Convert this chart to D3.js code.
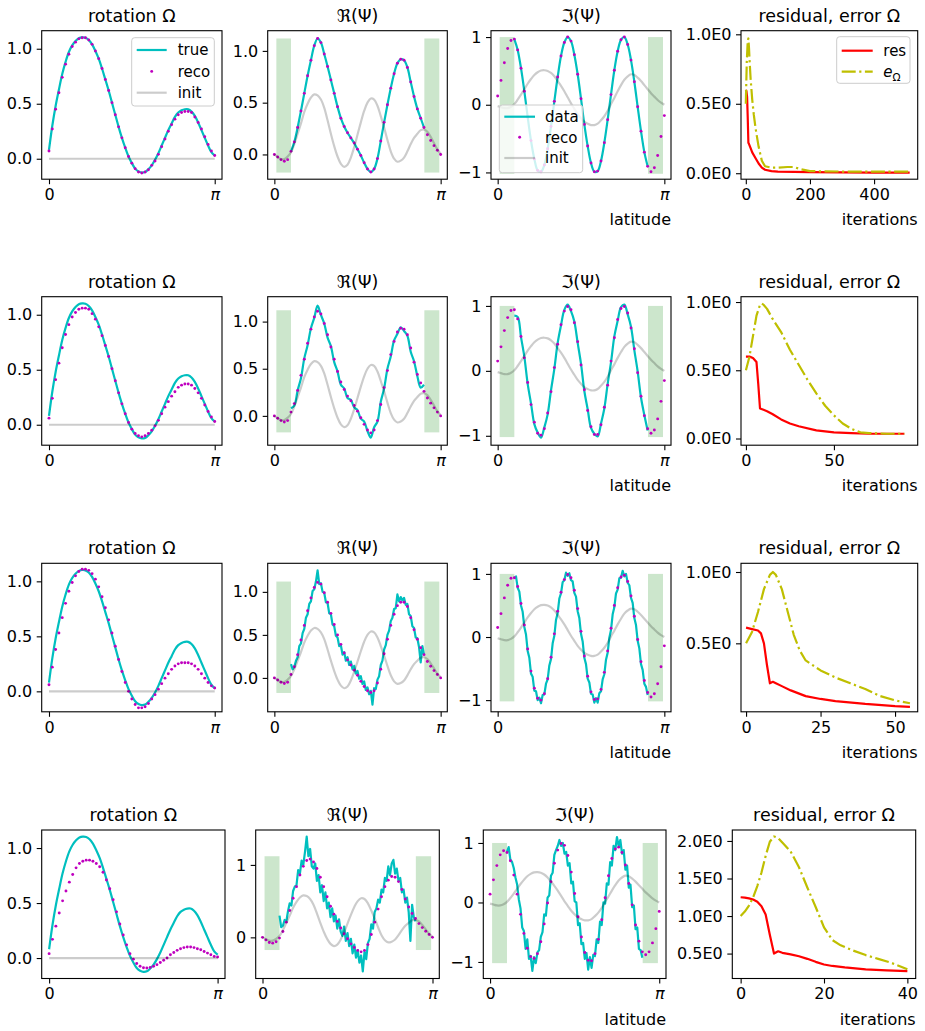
<!DOCTYPE html>
<html>
<head>
<meta charset="utf-8">
<script src="https://cdnjs.cloudflare.com/ajax/libs/d3/7.8.5/d3.min.js"></script>
<style>
  body { margin: 0; background: #fff; }
  text { font-family: "DejaVu Sans", sans-serif; }
</style>
</head>
<body>
<script>
// latitude grids, in units of pi
const latOm = [0,0.02,0.04,0.06,0.08,0.10,0.12,0.14,0.16,0.18,0.20,0.22,0.24,0.26,0.28,0.30,0.32,0.34,0.36,0.38,0.40,0.42,0.44,0.46,0.48,0.50,0.52,0.54,0.56,0.58,0.60,0.62,0.64,0.66,0.68,0.70,0.72,0.74,0.76,0.78,0.80,0.82,0.84,0.86,0.88,0.90,0.92,0.94,0.96,0.98,1.0];
const latMid = [0.10,0.12,0.14,0.16,0.18,0.20,0.22,0.24,0.26,0.28,0.30,0.32,0.34,0.36,0.38,0.40,0.42,0.44,0.46,0.48,0.50,0.52,0.54,0.56,0.58,0.60,0.62,0.64,0.66,0.68,0.70,0.72,0.74,0.76,0.78,0.80,0.82,0.84,0.86,0.88,0.90];
const latFine = [0.10,0.11,0.12,0.13,0.14,0.15,0.16,0.17,0.18,0.19,0.20,0.21,0.22,0.23,0.24,0.25,0.26,0.27,0.28,0.29,0.30,0.31,0.32,0.33,0.34,0.35,0.36,0.37,0.38,0.39,0.40,0.41,0.42,0.43,0.44,0.45,0.46,0.47,0.48,0.49,0.50,0.51,0.52,0.53,0.54,0.55,0.56,0.57,0.58,0.59,0.60,0.61,0.62,0.63,0.64,0.65,0.66,0.67,0.68,0.69,0.70,0.71,0.72,0.73,0.74,0.75,0.76,0.77,0.78,0.79,0.80,0.81,0.82,0.83,0.84,0.85,0.86,0.87,0.88,0.89,0.90];
const latEnds = [0.0, 1.0];

// rotation
const omegaTrue = [0.08,0.30,0.48,0.63,0.77,0.88,0.97,1.03,1.07,1.095,1.103,1.10,1.08,1.04,0.98,0.91,0.82,0.72,0.62,0.51,0.40,0.29,0.19,0.10,0.02,-0.04,-0.09,-0.115,-0.125,-0.12,-0.095,-0.06,-0.01,0.05,0.12,0.19,0.26,0.32,0.38,0.42,0.44,0.45,0.45,0.43,0.39,0.33,0.26,0.19,0.12,0.06,0.03];
const omegaInit = [0, 0];
const omegaReco1 = [0.07,0.27,0.45,0.60,0.74,0.86,0.95,1.02,1.06,1.09,1.10,1.10,1.08,1.04,0.98,0.91,0.82,0.72,0.62,0.51,0.40,0.29,0.19,0.10,0.02,-0.04,-0.09,-0.12,-0.13,-0.12,-0.10,-0.06,-0.02,0.04,0.11,0.18,0.25,0.31,0.36,0.40,0.42,0.43,0.43,0.42,0.38,0.33,0.27,0.20,0.13,0.07,0.03];
const omegaReco2 = [0.06,0.24,0.41,0.56,0.70,0.82,0.91,0.98,1.02,1.05,1.06,1.06,1.05,1.01,0.96,0.89,0.81,0.72,0.62,0.51,0.40,0.29,0.19,0.10,0.02,-0.04,-0.08,-0.10,-0.11,-0.10,-0.08,-0.05,-0.01,0.04,0.10,0.16,0.21,0.26,0.30,0.34,0.36,0.37,0.37,0.36,0.33,0.29,0.24,0.18,0.12,0.07,0.03];
const omegaReco3 = [0.06,0.22,0.38,0.53,0.67,0.80,0.91,0.99,1.05,1.09,1.11,1.11,1.10,1.07,1.02,0.95,0.86,0.76,0.65,0.53,0.41,0.29,0.18,0.08,0.00,-0.07,-0.12,-0.15,-0.15,-0.14,-0.11,-0.07,-0.03,0.02,0.07,0.12,0.16,0.20,0.23,0.25,0.26,0.26,0.26,0.25,0.23,0.20,0.16,0.12,0.08,0.05,0.03];
const omegaReco4 = [0.04,0.17,0.29,0.41,0.52,0.61,0.69,0.76,0.82,0.86,0.88,0.89,0.89,0.88,0.86,0.83,0.78,0.71,0.63,0.53,0.42,0.31,0.21,0.12,0.04,-0.01,-0.05,-0.075,-0.088,-0.09,-0.085,-0.075,-0.06,-0.04,-0.02,0.00,0.03,0.05,0.07,0.085,0.095,0.10,0.10,0.095,0.085,0.075,0.06,0.045,0.03,0.015,0.01];

// real part of psi
const reInit = [0.00,-0.025,-0.045,-0.045,-0.02,0.02,0.10,0.20,0.30,0.41,0.49,0.55,0.58,0.57,0.53,0.45,0.33,0.20,0.08,-0.02,-0.09,-0.12,-0.10,-0.03,0.07,0.19,0.31,0.42,0.50,0.54,0.53,0.47,0.37,0.26,0.14,0.03,-0.04,-0.07,-0.06,-0.03,0.03,0.10,0.16,0.20,0.235,0.24,0.22,0.17,0.11,0.05,0.01];
const reReco1 = [0.00,-0.025,-0.05,-0.065,-0.05,0.03,0.12,0.26,0.42,0.59,0.76,0.91,1.05,1.12,1.08,0.97,0.85,0.72,0.59,0.46,0.35,0.27,0.21,0.16,0.11,0.05,-0.01,-0.08,-0.14,-0.17,-0.14,-0.04,0.13,0.31,0.48,0.64,0.78,0.88,0.92,0.91,0.84,0.70,0.56,0.44,0.35,0.26,0.19,0.135,0.085,0.04,0.00];
const reReco2 = [0.00,-0.025,-0.05,-0.065,-0.05,0.04,0.13,0.27,0.43,0.60,0.77,0.92,1.05,1.11,1.08,0.98,0.86,0.73,0.60,0.47,0.36,0.28,0.21,0.16,0.11,0.05,-0.02,-0.09,-0.15,-0.18,-0.15,-0.05,0.12,0.30,0.48,0.65,0.79,0.89,0.93,0.92,0.86,0.72,0.57,0.44,0.35,0.26,0.19,0.135,0.085,0.04,0.00];
const reReco3 = [0.00,-0.025,-0.05,-0.065,-0.05,0.04,0.13,0.27,0.44,0.61,0.78,0.93,1.05,1.11,1.09,0.99,0.88,0.75,0.62,0.50,0.39,0.29,0.21,0.15,0.09,0.03,-0.04,-0.10,-0.15,-0.17,-0.15,-0.06,0.10,0.28,0.45,0.61,0.74,0.84,0.88,0.88,0.83,0.70,0.56,0.45,0.35,0.27,0.19,0.135,0.085,0.04,0.00];
const reReco4 = [0.00,-0.035,-0.07,-0.08,-0.06,-0.01,0.08,0.21,0.37,0.54,0.70,0.86,0.98,1.06,1.08,1.04,0.95,0.83,0.70,0.56,0.43,0.32,0.22,0.13,0.05,-0.02,-0.09,-0.14,-0.18,-0.20,-0.18,-0.10,0.04,0.21,0.39,0.56,0.70,0.79,0.84,0.83,0.77,0.66,0.53,0.42,0.33,0.26,0.19,0.135,0.085,0.04,0.00];
const reData1 = [0.03,0.12,0.26,0.42,0.59,0.76,0.91,1.05,1.12,1.08,0.97,0.85,0.72,0.59,0.46,0.35,0.27,0.21,0.16,0.11,0.05,-0.01,-0.08,-0.14,-0.17,-0.14,-0.04,0.13,0.31,0.48,0.64,0.78,0.88,0.92,0.91,0.84,0.70,0.56,0.44,0.35,0.26];
const reData2 = [0.08,0.11,0.27,0.40,0.61,0.75,0.93,1.04,1.17,1.07,0.98,0.83,0.74,0.57,0.47,0.33,0.29,0.19,0.17,0.09,0.06,-0.03,-0.06,-0.16,-0.23,-0.12,-0.06,0.15,0.29,0.50,0.63,0.80,0.87,0.94,0.90,0.85,0.68,0.58,0.42,0.30,0.33];
const reData3 = [0.16,0.10,0.13,0.20,0.24,0.37,0.40,0.52,0.57,0.70,0.74,0.86,0.89,1.01,1.03,1.12,1.25,1.09,1.10,1.00,0.99,0.88,0.87,0.75,0.74,0.62,0.60,0.49,0.47,0.37,0.38,0.27,0.30,0.20,0.24,0.15,0.19,0.10,0.14,0.05,0.08,-0.01,0.02,-0.07,-0.04,-0.14,-0.11,-0.19,-0.15,-0.31,-0.12,-0.13,-0.02,0.02,0.15,0.20,0.33,0.38,0.50,0.55,0.66,0.70,0.80,0.81,0.97,0.89,0.94,0.90,0.93,0.85,0.86,0.74,0.72,0.60,0.58,0.47,0.46,0.36,0.18,0.37,0.27];
const reData4 = [0.30,0.14,0.16,0.24,0.22,0.36,0.47,0.44,0.64,0.70,0.72,0.93,0.88,1.06,1.00,1.18,1.39,1.12,1.22,0.98,0.95,1.02,0.78,0.86,0.62,0.72,0.50,0.62,0.40,0.48,0.28,0.40,0.22,0.30,0.12,0.25,0.08,0.02,0.15,-0.05,0.06,-0.12,-0.02,-0.22,-0.10,-0.28,-0.18,-0.35,-0.25,-0.47,-0.20,-0.30,-0.08,-0.02,0.18,0.12,0.35,0.40,0.52,0.48,0.66,0.62,0.82,0.78,0.98,0.86,1.02,1.07,0.88,0.95,0.78,0.82,0.62,0.66,0.48,0.55,0.35,-0.05,0.45,0.28,0.22];

// imaginary part of psi
const imInit = [-0.02,-0.035,-0.05,-0.05,-0.03,0.01,0.075,0.15,0.23,0.31,0.38,0.44,0.48,0.505,0.51,0.50,0.47,0.42,0.35,0.28,0.20,0.11,0.02,-0.06,-0.14,-0.20,-0.25,-0.28,-0.30,-0.30,-0.28,-0.23,-0.17,-0.09,0.01,0.10,0.20,0.29,0.37,0.42,0.45,0.44,0.40,0.35,0.29,0.23,0.17,0.12,0.07,0.03,0.00];
const imReco1 = [0.13,0.36,0.62,0.83,0.95,0.97,0.81,0.54,0.20,-0.18,-0.53,-0.80,-0.97,-0.99,-0.89,-0.65,-0.32,0.05,0.41,0.72,0.92,1.00,0.94,0.74,0.45,0.09,-0.29,-0.61,-0.86,-0.99,-0.98,-0.83,-0.56,-0.22,0.15,0.51,0.79,0.96,1.00,0.89,0.66,0.34,-0.03,-0.39,-0.70,-0.91,-0.99,-0.93,-0.75,-0.47,-0.16];
const imReco2 = [0.15,0.37,0.62,0.82,0.93,0.94,0.80,0.53,0.20,-0.18,-0.52,-0.79,-0.96,-0.99,-0.89,-0.65,-0.32,0.05,0.41,0.71,0.92,0.99,0.94,0.74,0.45,0.09,-0.29,-0.61,-0.86,-0.98,-0.98,-0.83,-0.56,-0.22,0.15,0.51,0.79,0.96,0.99,0.89,0.66,0.34,-0.03,-0.39,-0.69,-0.89,-0.96,-0.91,-0.74,-0.47,-0.15];
const imReco3 = [0.15,0.37,0.62,0.82,0.93,0.94,0.80,0.53,0.19,-0.19,-0.54,-0.81,-0.97,-1.00,-0.90,-0.66,-0.32,0.05,0.41,0.71,0.91,0.99,0.94,0.74,0.45,0.09,-0.30,-0.62,-0.87,-0.99,-0.98,-0.83,-0.56,-0.22,0.14,0.50,0.78,0.95,0.98,0.88,0.65,0.33,-0.04,-0.39,-0.69,-0.88,-0.95,-0.90,-0.74,-0.47,-0.14];
const imReco4 = [0.14,0.38,0.62,0.80,0.87,0.84,0.70,0.46,0.14,-0.20,-0.52,-0.77,-0.91,-0.94,-0.86,-0.66,-0.36,-0.01,0.35,0.66,0.88,0.99,0.96,0.79,0.51,0.15,-0.24,-0.58,-0.84,-0.97,-0.98,-0.86,-0.62,-0.29,0.08,0.45,0.74,0.90,0.93,0.84,0.63,0.32,-0.04,-0.38,-0.65,-0.83,-0.88,-0.83,-0.68,-0.44,-0.15];
const imData1 = [0.97,0.81,0.54,0.20,-0.18,-0.53,-0.80,-0.97,-0.99,-0.89,-0.65,-0.32,0.05,0.41,0.72,0.92,1.00,0.94,0.74,0.45,0.09,-0.29,-0.61,-0.86,-0.99,-0.98,-0.83,-0.56,-0.22,0.15,0.51,0.79,0.96,1.00,0.89,0.66,0.34,-0.03,-0.39,-0.70,-0.91];
const imData2 = [0.85,0.83,0.52,0.22,-0.20,-0.50,-0.82,-0.95,-1.03,-0.87,-0.67,-0.30,0.03,0.43,0.70,0.94,1.02,0.92,0.76,0.43,0.11,-0.31,-0.59,-0.88,-0.97,-1.01,-0.81,-0.58,-0.20,0.13,0.53,0.77,0.98,1.02,0.87,0.68,0.32,-0.01,-0.41,-0.68,-0.92];
const imData3 = [0.93,0.96,0.78,0.72,0.50,0.40,0.16,0.04,-0.22,-0.33,-0.58,-0.63,-0.85,-0.86,-1.00,-0.96,-1.05,-0.92,-0.91,-0.74,-0.67,-0.45,-0.35,-0.10,0.02,0.27,0.38,0.61,0.69,0.87,0.90,1.02,0.97,1.01,0.90,0.88,0.70,0.64,0.41,0.30,0.05,-0.07,-0.33,-0.43,-0.66,-0.72,-0.90,-0.91,-1.04,-0.97,-1.04,-0.89,-0.86,-0.67,-0.59,-0.36,-0.25,-0.01,0.11,0.36,0.47,0.69,0.75,0.93,0.94,1.05,0.96,1.00,0.86,0.82,0.62,0.54,0.30,0.19,-0.06,-0.18,-0.43,-0.52,-0.74,-0.79,-0.92];
const imData4 = [0.85,0.93,0.72,0.68,0.58,0.42,0.30,0.05,-0.10,-0.42,-0.48,-0.78,-0.62,-0.95,-0.90,-1.15,-0.92,-1.02,-0.84,-0.80,-0.58,-0.50,-0.20,-0.22,0.08,0.12,0.45,0.50,0.80,0.88,0.95,1.05,0.95,1.00,0.82,0.85,0.62,0.66,0.32,0.35,0.02,0.00,-0.38,-0.35,-0.70,-0.68,-0.95,-0.85,-1.13,-0.92,-1.10,-0.88,-0.90,-0.62,-0.68,-0.32,-0.38,0.00,-0.02,0.32,0.30,0.68,0.62,0.95,0.88,1.10,0.95,1.05,0.82,0.88,0.55,0.62,0.25,0.30,-0.08,-0.05,-0.45,-0.42,-0.78,-0.80,-0.93];

// masked polar bands (latitude / pi) and their vertical extent
const maskLeft = [0.012, 0.10];
const maskRight = [0.902, 0.992];
const reMaskY = [-0.175, 1.12];
const imMaskY = [-1.02, 1.0];

// convergence histories
const itRes1 = [0,2,4,6,8,10,15,20,30,40,50,60,80,100,150,200,300,400,511];
const res1 = [0.60,0.59,0.55,0.40,0.22,0.21,0.18,0.15,0.11,0.07,0.04,0.025,0.015,0.012,0.01,0.008,0.006,0.005,0.005];
const itErr1 = [0,3,6,8,10,12,15,20,25,30,40,50,60,80,100,130,150,170,200,300,400,511];
const err1 = [0.50,0.80,0.95,0.97,0.90,0.80,0.68,0.53,0.42,0.33,0.19,0.09,0.05,0.04,0.04,0.045,0.045,0.03,0.015,0.012,0.012,0.012];
const itRes2 = [0,2,4,6,7,8,10,12,15,20,25,30,40,50,60,70,80,90];
const res2 = [0.60,0.60,0.59,0.56,0.40,0.22,0.21,0.20,0.18,0.14,0.11,0.09,0.06,0.045,0.04,0.035,0.035,0.035];
const itErr2 = [0,2,4,6,8,9,10,12,15,20,25,30,35,40,45,50,55,60,65,70,80,90];
const err2 = [0.50,0.60,0.75,0.90,0.98,0.99,0.98,0.95,0.88,0.78,0.65,0.54,0.43,0.33,0.24,0.17,0.11,0.07,0.045,0.04,0.035,0.035];
const itRes3 = [0,2,4,5,6,7,8,9,10,12,15,20,25,30,40,50,55];
const res3 = [0.61,0.60,0.59,0.57,0.50,0.35,0.22,0.23,0.22,0.20,0.17,0.13,0.11,0.095,0.075,0.06,0.055];
const itErr3 = [0,2,4,6,8,9,10,12,14,16,18,20,25,30,35,40,45,50,55];
const err3 = [0.50,0.58,0.72,0.88,0.98,1.00,0.98,0.88,0.72,0.56,0.45,0.38,0.31,0.26,0.22,0.18,0.13,0.10,0.08];
const itRes4 = [0,1,2,3,4,5,6,7,8,9,10,12,14,16,18,20,22,25,30,35,40];
const res4 = [1.25,1.245,1.235,1.22,1.19,1.13,1.02,0.75,0.50,0.53,0.51,0.49,0.465,0.43,0.39,0.355,0.335,0.315,0.29,0.275,0.265];
const itErr4 = [0,1,2,3,4,5,6,7,8,9,10,12,14,16,18,20,22,24,27,30,33,36,40];
const err4 = [1.00,1.06,1.14,1.25,1.40,1.58,1.80,1.99,2.06,2.04,1.98,1.86,1.65,1.38,1.12,0.85,0.68,0.61,0.54,0.48,0.43,0.38,0.29];

// ticks
const latTicks = [0, 1];
const latTickLabels = ["0", "π"];
const omTicks = [0, 0.5, 1];
const reTicks = [[0, 0.5, 1], [0, 0.5, 1], [0, 0.5, 1], [0, 1]];
const imTicks = [-1, 0, 1];
const itTicks = [[0, 200, 400], [0, 50], [0, 25, 50], [0, 20, 40]];
const errTicks = [[0, 0.5, 1], [0, 0.5, 1], [0.5, 1], [0.5, 1, 1.5, 2]];

// layout
const W = 925, H = 1031;
const rowTop = [30.7, 296.7, 563.3, 830];
const axH = 148.5;
const colSpanTop = [[41.7, 222], [267.7, 447.3], [491, 671], [741, 917.7]];
const colSpan = [colSpanTop, colSpanTop, colSpanTop,
  [[41.7, 225], [255.7, 439.3], [483.3, 666], [732.3, 915.7]]];
const omXDom = [-0.044, 1.044];
const psiXDom = [-0.04, 1.04];
const omYDom = [-0.186, 1.164];
const reYDom = [[-0.239, 1.195], [-0.311, 1.264], [-0.394, 1.332], [-0.568, 1.482]];
const imYDom = [[-1.10, 1.094], [-1.145, 1.142], [-1.185, 1.168], [-1.278, 1.218]];
const itXDom = [[-15, 536], [-2.8, 97.6], [-1.7, 57.6], [-2, 42]];
const errYDom = [[-0.043, 1.026], [-0.049, 1.039], [0.02, 1.061], [0.168, 2.146]];

const C_TRUE = "#00bfbf", C_RECO = "#bf00bf", C_RES = "#ff0000", C_ERR = "#bfbf00";

const svg = d3.select("body").append("svg")
  .attr("width", W).attr("height", H);
svg.append("rect").attr("width", W).attr("height", H).attr("fill", "#fff");

let clipN = 0;
function makePanel(r, c, xDom, yDom) {
  const [x0, x1] = colSpan[r][c];
  const y0 = rowTop[r], y1 = y0 + axH;
  const x = d3.scaleLinear().domain(xDom).range([x0, x1]);
  const y = d3.scaleLinear().domain(yDom).range([y1, y0]);
  const g = svg.append("g");
  const id = "clip" + (clipN++);
  g.append("clipPath").attr("id", id).append("rect")
    .attr("x", x0).attr("y", y0).attr("width", x1 - x0).attr("height", axH);
  const plot = g.append("g").attr("clip-path", "url(#" + id + ")");
  return { g, plot, x, y, x0, x1, y0, y1 };
}

function finishPanel(p, xt, xf, yt, yf, title, xlabel) {
  const xa = p.g.append("g").attr("transform", "translate(0," + p.y1 + ")")
    .call(d3.axisBottom(p.x).tickValues(xt).tickFormat(xf).tickSize(5).tickPadding(4.5));
  const ya = p.g.append("g").attr("transform", "translate(" + p.x0 + ",0)")
    .call(d3.axisLeft(p.y).tickValues(yt).tickFormat(yf).tickSize(5).tickPadding(4.5));
  [xa, ya].forEach(a => {
    a.attr("font-size", 16).attr("font-family", "DejaVu Sans");
    a.select(".domain").remove();
    a.selectAll("line").attr("stroke", "#000").attr("stroke-width", 1.1);
    a.selectAll("text").attr("fill", "#000");
  });
  xa.selectAll("text").filter(d => xf(d) === "π").style("font-style", "italic");
  p.g.append("rect")
    .attr("x", p.x0).attr("y", p.y0)
    .attr("width", p.x1 - p.x0).attr("height", p.y1 - p.y0)
    .attr("fill", "none").attr("stroke", "#000").attr("stroke-width", 1.1);
  p.g.append("text")
    .attr("x", (p.x0 + p.x1) / 2).attr("y", p.y0 - 9)
    .attr("text-anchor", "middle").attr("font-size", 17.5)
    .text(title);
  if (xlabel) {
    p.g.append("text")
      .attr("x", p.x1).attr("y", p.y1 + 46)
      .attr("text-anchor", "end").attr("font-size", 16)
      .text(xlabel);
  }
}

function drawLine(p, xs, ys, color, opts) {
  const o = Object.assign({ width: 2.2, opacity: 1, smooth: false, dash: null }, opts);
  const line = d3.line()
    .x(d => p.x(d[0])).y(d => p.y(d[1]))
    .curve(o.smooth ? d3.curveCatmullRom.alpha(0.5) : d3.curveLinear);
  p.plot.append("path")
    .datum(d3.zip(xs, ys))
    .attr("d", line)
    .attr("fill", "none")
    .attr("stroke", color)
    .attr("stroke-opacity", o.opacity)
    .attr("stroke-width", o.width)
    .attr("stroke-linejoin", "round")
    .attr("stroke-dasharray", o.dash);
}

function drawDots(p, xs, ys) {
  p.plot.append("g").selectAll("circle")
    .data(d3.zip(xs, ys))
    .join("circle")
    .attr("cx", d => p.x(d[0])).attr("cy", d => p.y(d[1]))
    .attr("r", 1.45).attr("fill", C_RECO);
}

function drawMask(p, yr) {
  [maskLeft, maskRight].forEach(m => {
    p.plot.append("rect")
      .attr("x", p.x(m[0])).attr("width", p.x(m[1]) - p.x(m[0]))
      .attr("y", p.y(yr[1])).attr("height", p.y(yr[0]) - p.y(yr[1]))
      .attr("fill", "#008000").attr("fill-opacity", 0.2);
  });
}

function legend(x, y, w, h, items, lx0, lx1, tx, ys) {
  const g = svg.append("g");
  g.append("rect").attr("x", x).attr("y", y).attr("width", w).attr("height", h)
    .attr("rx", 3).attr("fill", "#fff").attr("fill-opacity", 0.8)
    .attr("stroke", "#cccccc").attr("stroke-width", 1);
  items.forEach((it, i) => {
    const yy = ys[i];
    if (it.kind === "dot") {
      g.append("circle").attr("cx", (lx0 + lx1) / 2).attr("cy", yy).attr("r", 1.45).attr("fill", it.color);
    } else {
      g.append("line").attr("x1", lx0).attr("x2", lx1).attr("y1", yy).attr("y2", yy)
        .attr("stroke", it.color).attr("stroke-width", 2.2)
        .attr("stroke-opacity", it.opacity || 1)
        .attr("stroke-dasharray", it.dash || null);
    }
    const t = g.append("text").attr("x", tx).attr("y", yy).attr("dy", "0.35em").attr("font-size", 15);
    if (it.label === "e_Ω") {
      t.append("tspan").style("font-style", "italic").text("e");
      t.append("tspan").attr("font-size", 10.5).attr("dy", 4).text("Ω");
    } else {
      t.text(it.label);
    }
  });
}

const omegaReco = [omegaReco1, omegaReco2, omegaReco3, omegaReco4];
const reReco = [reReco1, reReco2, reReco3, reReco4];
const imReco = [imReco1, imReco2, imReco3, imReco4];
const reData = [[latMid, reData1], [latMid, reData2], [latFine, reData3], [latFine, reData4]];
const imData = [[latMid, imData1], [latMid, imData2], [latFine, imData3], [latFine, imData4]];
const conv = [
  [itRes1, res1, itErr1, err1],
  [itRes2, res2, itErr2, err2],
  [itRes3, res3, itErr3, err3],
  [itRes4, res4, itErr4, err4]
];
const latFmt = d => latTickLabels[latTicks.indexOf(d)];
const DASHDOT = "14,3.5,2.2,3.5";

for (let r = 0; r < 4; r++) {
  // rotation
  const p1 = makePanel(r, 0, omXDom, omYDom);
  drawLine(p1, latOm, omegaTrue, C_TRUE, { smooth: true });
  drawDots(p1, latOm, omegaReco[r]);
  drawLine(p1, latEnds, omegaInit, "#000", { opacity: 0.2 });
  finishPanel(p1, latTicks, latFmt, omTicks, d3.format(".1f"), "rotation Ω");

  // real part
  const p2 = makePanel(r, 1, psiXDom, reYDom[r]);
  drawMask(p2, reMaskY);
  drawLine(p2, reData[r][0], reData[r][1], C_TRUE, { smooth: r < 2 });
  drawDots(p2, latOm, reReco[r]);
  drawLine(p2, latOm, reInit, "#000", { opacity: 0.2, smooth: true });
  finishPanel(p2, latTicks, latFmt, reTicks[r], r === 3 ? d3.format("d") : d3.format(".1f"), "ℜ(Ψ)");

  // imaginary part
  const p3 = makePanel(r, 2, psiXDom, imYDom[r]);
  drawMask(p3, imMaskY);
  drawLine(p3, imData[r][0], imData[r][1], C_TRUE, { smooth: r < 2 });
  drawDots(p3, latOm, imReco[r]);
  drawLine(p3, latOm, imInit, "#000", { opacity: 0.2, smooth: true });
  finishPanel(p3, latTicks, latFmt, imTicks, d => d < 0 ? "−" + Math.abs(d) : String(d), "ℑ(Ψ)", "latitude");

  // convergence
  const p4 = makePanel(r, 3, itXDom[r], errYDom[r]);
  const [ir, rv, ie, ev] = conv[r];
  drawLine(p4, ir, rv, C_RES);
  drawLine(p4, ie, ev, C_ERR, { dash: DASHDOT });
  finishPanel(p4, itTicks[r], d3.format("d"), errTicks[r], d => d3.format(".1f")(d) + "E0", "residual, error Ω", "iterations");
}

legend(131.7, 37.7, 82.6, 68.3,
  [{ label: "true", color: C_TRUE }, { label: "reco", color: C_RECO, kind: "dot" }, { label: "init", color: "#000", opacity: 0.2 }],
  136.7, 166.7, 177.7, [50, 71.4, 92.7]);
legend(499.3, 105, 83.4, 67.7,
  [{ label: "data", color: C_TRUE }, { label: "reco", color: C_RECO, kind: "dot" }, { label: "init", color: "#000", opacity: 0.2 }],
  504.3, 535, 545, [116.7, 137.3, 158]);
legend(836.7, 36.7, 73.3, 46.6,
  [{ label: "res", color: C_RES }, { label: "e_Ω", color: C_ERR, dash: DASHDOT }],
  841.7, 872.7, 883.3, [50.7, 71.7]);
</script>
</body>
</html>
